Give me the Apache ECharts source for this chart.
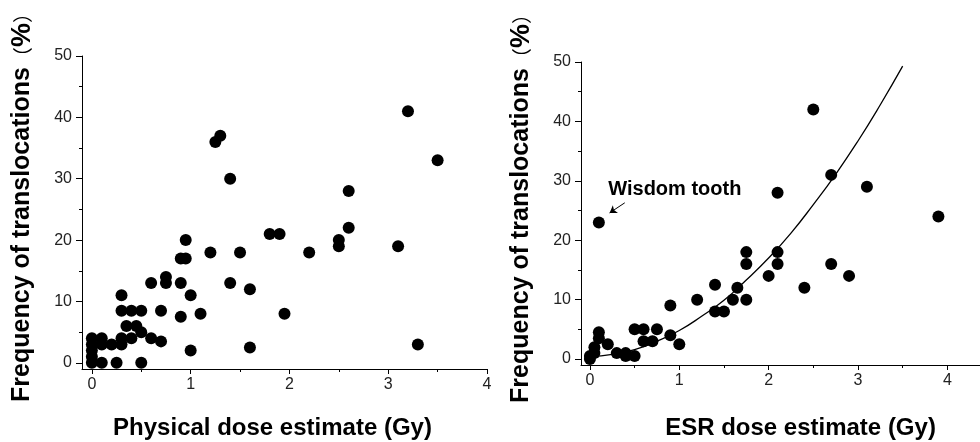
<!DOCTYPE html>
<html>
<head>
<meta charset="utf-8">
<script src="https://cdn.jsdelivr.net/npm/echarts@6/dist/echarts.min.js"></script>
<style>
  html, body { margin: 0; padding: 0; background: #fff; }
  #chart { width: 980px; height: 442px; }
</style>
</head>
<body>
<div id="chart"></div>
<script>
// left panel: physical dose vs translocation frequency
const physDose = [0, 0, 0, 0, 0, 0.1, 0.1, 0.1, 0.2, 0.25, 0.3, 0.3, 0.3, 0.3, 0.35, 0.4, 0.4, 0.45,
  0.5, 0.5, 0.5, 0.6, 0.6, 0.7, 0.7, 0.75, 0.75, 0.9, 0.9, 0.9, 0.95, 0.95, 1.0, 1.0, 1.1, 1.2,
  1.25, 1.3, 1.4, 1.4, 1.5, 1.6, 1.6, 1.8, 1.9, 1.95, 2.2, 2.5, 2.5, 2.6, 2.6, 3.1, 3.2, 3.3, 3.5];
const physFreq = [0, 1, 2, 3, 4, 4, 3, 0, 3, 0, 11, 8.5, 4, 3, 6, 8.5, 4, 6,
  8.5, 5, 0, 13, 4, 8.5, 3.5, 14, 13, 17, 13, 7.5, 20, 17, 11, 2, 8, 18,
  36, 37, 30, 13, 18, 12, 2.5, 21, 21, 8, 18, 20, 19, 28, 22, 19, 41, 3, 33];

// right panel: ESR dose vs translocation frequency
const esrDose = [2.5, 2.7, 3.1, 2.1, 3.9, 0.1, 1.75, 1.75, 2.1, 2.1, 2.7, 2.0, 2.9, 2.4, 1.4, 1.65,
  1.2, 1.6, 1.75, 0.9, 1.4, 1.5, 0.5, 0.6, 0.75, 0.6, 0.7, 0.9, 1.0, 0.2, 0.1, 0.1, 0.05, 0.05,
  0, 0, 0.3, 0.4, 0.4, 0.5];
const esrFreq = [42, 31, 29, 28, 24, 23, 18, 16, 18, 16, 16, 14, 14, 12, 12.5, 12,
  10, 10, 10, 9, 8, 8, 5, 5, 5, 3, 3, 4, 2.5, 2.5, 4.5, 3.5, 2, 1,
  0.5, 0, 1, 1, 0.5, 0.5];

// fitted curve
const fitDose = [0, 0.25, 0.5, 0.75, 1.0, 1.25, 1.5, 1.75, 2.0, 2.25, 2.5, 2.75, 3.0, 3.25, 3.5];
const fitFreq = [0.4, 0.8, 1.6, 3.0, 4.8, 7.2, 9.9, 13.3, 17.0, 21.2, 26.0, 31.1, 36.7, 42.8, 49.3];

const majorX = [0, 1, 2, 3, 4];
const minorX = [0.5, 1.5, 2.5, 3.5, 4.5];
const majorY = [0, 10, 20, 30, 40, 50];
const minorY = [5, 15, 25, 35, 45];

const noteText = 'Wisdom tooth';
const notePos = [0.95, 28.6];
const arrowFrom = [0.39, 26.3];
const arrowTo = [0.22, 24.6];

const font = 'Liberation Sans, Arial, sans-serif';
const ink = '#000';

function pair(xs, ys) {
  return xs.map((x, i) => [x, ys[i]]);
}

const yName = '{t|Frequency of translocations}{p|（}{b|%}{p|）}';
const yNameStyle = {
  padding: [0, 0, 0, 20],
  rich: {
    t: { fontFamily: font, fontWeight: 'bold', fontSize: 25, color: ink },
    b: { fontFamily: font, fontWeight: 'bold', fontSize: 27, color: ink },
    p: { fontFamily: 'Noto Sans CJK SC', fontWeight: 'normal', fontSize: 20, color: ink },
  },
};

function majorXAxis(grid, xmax, title, gap, pad) {
  return {
    type: 'value', gridIndex: grid, position: 'bottom', min: -0.1, max: xmax,
    axisLine: { show: true, onZero: false, lineStyle: { color: ink, width: 1 } },
    axisTick: { show: true, customValues: majorX, length: 5, lineStyle: { color: ink } },
    axisLabel: { customValues: majorX, margin: 8, fontFamily: font, fontSize: 16, color: '#222' },
    splitLine: { show: false },
    name: title, nameLocation: 'middle', nameGap: gap,
    nameTextStyle: { fontFamily: font, fontWeight: 'bold', fontSize: 24, color: ink, padding: pad },
  };
}
function minorXAxis(grid, xmax) {
  return {
    type: 'value', gridIndex: grid, position: 'bottom', min: -0.1, max: xmax,
    axisLine: { show: false, onZero: false },
    axisTick: { show: true, customValues: minorX, length: 3, lineStyle: { color: ink } },
    axisLabel: { show: false },
    splitLine: { show: false },
  };
}
function majorYAxis(grid) {
  return {
    type: 'value', gridIndex: grid, position: 'left', min: -1, max: 50,
    axisLine: { show: true, onZero: false, lineStyle: { color: ink, width: 1 } },
    axisTick: { show: true, customValues: majorY, length: 6, lineStyle: { color: ink } },
    axisLabel: { customValues: majorY, margin: 10, fontFamily: font, fontSize: 16, color: '#222' },
    splitLine: { show: false },
    name: yName, nameLocation: 'middle', nameRotate: 90, nameGap: 46,
    nameTextStyle: yNameStyle,
  };
}
function minorYAxis(grid) {
  return {
    type: 'value', gridIndex: grid, position: 'left', min: -1, max: 50,
    axisLine: { show: false, onZero: false },
    axisTick: { show: true, customValues: minorY, length: 3, lineStyle: { color: ink } },
    axisLabel: { show: false },
    splitLine: { show: false },
  };
}

const chart = echarts.init(document.getElementById('chart'), null, { renderer: 'canvas' });
chart.setOption({
  backgroundColor: '#fff',
  animation: false,
  grid: [
    { left: 82, right: 493, top: 56, bottom: 73, outerBoundsMode: 'none', containLabel: false },
    { left: 581, right: -12, top: 62, bottom: 77, outerBoundsMode: 'none', containLabel: false },
  ],
  xAxis: [
    majorXAxis(0, 4, 'Physical dose estimate (Gy)', 47, [0, 24, 0, 0]),
    minorXAxis(0, 4),
    majorXAxis(1, 4.5, 'ESR dose estimate (Gy)', 51, [0, 0, 0, 28]),
    minorXAxis(1, 4.5),
  ],
  yAxis: [majorYAxis(0), minorYAxis(0), majorYAxis(1), minorYAxis(1)],
  series: [
    {
      type: 'scatter', xAxisIndex: 0, yAxisIndex: 0,
      data: pair(physDose, physFreq),
      symbol: 'circle', symbolSize: 12,
      itemStyle: { color: ink, opacity: 1 },
    },
    {
      type: 'line', xAxisIndex: 2, yAxisIndex: 2,
      data: pair(fitDose, fitFreq),
      smooth: true, showSymbol: false,
      lineStyle: { color: ink, width: 1.3 },
      z: 1,
    },
    {
      type: 'scatter', xAxisIndex: 2, yAxisIndex: 2,
      data: pair(esrDose, esrFreq),
      symbol: 'circle', symbolSize: 12,
      itemStyle: { color: ink, opacity: 1 },
      z: 2,
      markPoint: {
        symbol: 'circle', symbolSize: 0,
        label: {
          show: true, position: 'inside', formatter: noteText,
          fontFamily: font, fontWeight: 'bold', fontSize: 20, color: ink,
        },
        data: [{ coord: notePos }],
      },
      markLine: {
        silent: true, symbol: ['none', 'arrow'], symbolSize: 7,
        label: { show: false },
        lineStyle: { color: ink, width: 1, type: 'solid' },
        data: [[{ coord: arrowFrom }, { coord: arrowTo }]],
      },
    },
  ],
});
</script>
</body>
</html>
